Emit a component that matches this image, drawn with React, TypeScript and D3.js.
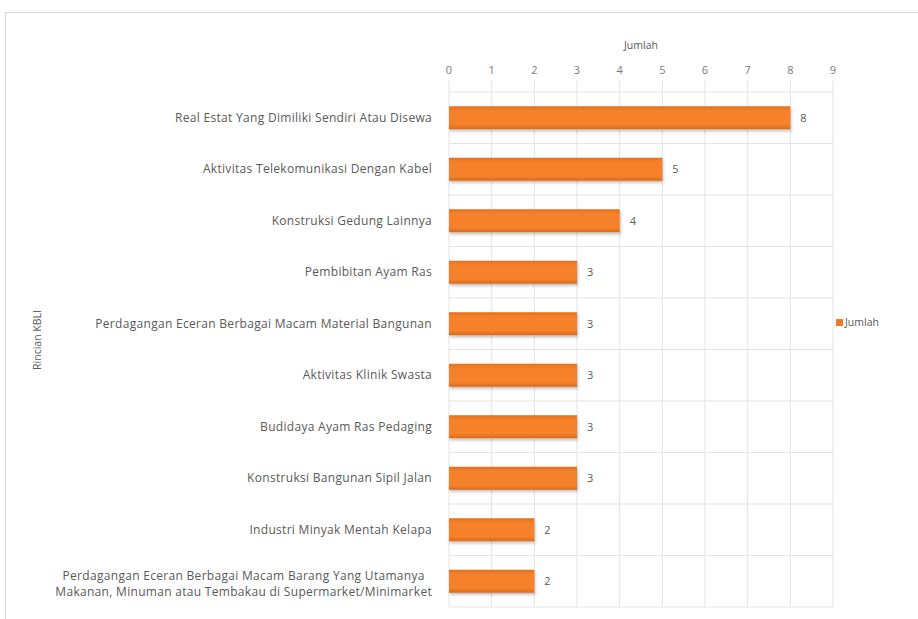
import React, { useEffect, useRef } from "react";
import * as d3 from "d3";

const categories = [
  "Real Estat Yang Dimiliki Sendiri Atau Disewa",
  "Aktivitas Telekomunikasi Dengan Kabel",
  "Konstruksi Gedung Lainnya",
  "Pembibitan Ayam Ras",
  "Perdagangan Eceran Berbagai Macam Material Bangunan",
  "Aktivitas Klinik Swasta",
  "Budidaya Ayam Ras Pedaging",
  "Konstruksi Bangunan Sipil Jalan",
  "Industri Minyak Mentah Kelapa",
  "Perdagangan Eceran Berbagai Macam Barang Yang Utamanya\nMakanan, Minuman atau Tembakau di Supermarket/Minimarket",
];
const jumlah = [8, 5, 4, 3, 3, 3, 3, 3, 2, 2];
const xTicks = [0, 1, 2, 3, 4, 5, 6, 7, 8, 9];

const W = 918;
const H = 619;
const FONT = "'Open Sans', sans-serif";
const TEXT = "#595959";
const GRID = "#e3e3e3";

const drawChart = (el: SVGSVGElement) => {
  const svg = d3.select(el);
  svg.selectAll("*").remove();

  const defs = svg.append("defs");
  const f = defs.append("filter").attr("id", "shadow").attr("x", "-5%").attr("y", "-30%").attr("width", "110%").attr("height", "170%");
  f.append("feDropShadow").attr("dx", 1).attr("dy", 2).attr("stdDeviation", 1.5).attr("flood-color", "#000").attr("flood-opacity", 0.25);

  const grad = defs.append("linearGradient").attr("id", "barGrad").attr("x1", 0).attr("y1", 0).attr("x2", 0).attr("y2", 1);
  grad.append("stop").attr("offset", "0%").attr("stop-color", "#e2701d");
  grad.append("stop").attr("offset", "20%").attr("stop-color", "#f5822b");
  grad.append("stop").attr("offset", "80%").attr("stop-color", "#f5822b");
  grad.append("stop").attr("offset", "100%").attr("stop-color", "#d9691a");

  // chart area border
  svg.append("rect").attr("x", 5.5).attr("y", 12.5).attr("width", W).attr("height", H)
    .attr("fill", "#fff").attr("stroke", "#d9d9d9");

  const x = d3.scaleLinear().domain([0, 9]).range([449, 833]);
  const y = d3.scaleBand().domain(categories).range([92, 607]);

  const g = svg.append("g");

  // vertical gridlines
  g.selectAll("line.vg").data(xTicks).enter().append("line")
    .attr("x1", (d) => x(d)).attr("x2", (d) => x(d))
    .attr("y1", 80).attr("y2", 607)
    .attr("stroke", GRID).attr("stroke-width", 1);

  // horizontal gridlines at category boundaries
  const bounds = categories.map((c) => y(c) as number).concat([y.range()[1]]);
  g.selectAll("line.hg").data(bounds).enter().append("line")
    .attr("x1", x(0)).attr("x2", x(9))
    .attr("y1", (d) => d).attr("y2", (d) => d)
    .attr("stroke", GRID).attr("stroke-width", 1);

  // top axis tick labels
  g.selectAll("text.tick").data(xTicks).enter().append("text")
    .attr("x", (d) => x(d)).attr("y", 74)
    .attr("text-anchor", "middle")
    .attr("font-family", FONT).attr("font-size", 11).attr("fill", "#7a7a7a")
    .text((d) => d);

  // axis titles
  svg.append("text").attr("x", (x(0) + x(9)) / 2).attr("y", 49)
    .attr("text-anchor", "middle")
    .attr("font-family", FONT).attr("font-size", 10.5).attr("fill", TEXT)
    .text("Jumlah");

  svg.append("text")
    .attr("transform", "translate(41,340) rotate(-90)")
    .attr("text-anchor", "middle")
    .attr("font-family", FONT).attr("font-size", 10.5).attr("fill", TEXT)
    .text("Rincian KBLI");

  const bh = 23;
  g.selectAll("rect.bar").data(jumlah).enter().append("rect")
    .attr("x", x(0))
    .attr("y", (d, i) => (y(categories[i]) as number) + y.bandwidth() / 2 - bh / 2)
    .attr("width", (d) => x(d) - x(0))
    .attr("height", bh)
    .attr("fill", "url(#barGrad)")
    .attr("filter", "url(#shadow)");

  g.selectAll("text.val").data(jumlah).enter().append("text")
    .attr("x", (d) => x(d) + 10)
    .attr("y", (d, i) => (y(categories[i]) as number) + y.bandwidth() / 2 + 4)
    .attr("font-family", FONT).attr("font-size", 11).attr("fill", TEXT)
    .text((d) => d);

  // category labels, block right-aligned, lines centred within it
  categories.forEach((c) => {
    const lines = c.split("\n");
    const cy = (y(c) as number) + y.bandwidth() / 2 + (lines.length > 1 ? 3 : 0);
    const t = g.append("text")
      .attr("text-anchor", "middle")
      .attr("font-family", FONT).attr("font-size", 12)
      .attr("letter-spacing", 0.3).attr("fill", TEXT);
    const spans = lines.map((ln, i) =>
      t.append("tspan")
        .attr("y", cy + 4 + (i - (lines.length - 1) / 2) * 16)
        .text(ln)
    );
    const maxW = d3.max(spans, (s) => (s.node() as SVGTSpanElement).getComputedTextLength()) || 0;
    spans.forEach((s) => s.attr("x", 432 - maxW / 2));
  });

  // legend
  svg.append("rect").attr("x", 836).attr("y", 319).attr("width", 7).attr("height", 7).attr("fill", "#ef7b2a");
  svg.append("text").attr("x", 845).attr("y", 326)
    .attr("font-family", FONT).attr("font-size", 10.5).attr("fill", TEXT)
    .text("Jumlah");
};

const App = () => {
  const ref = useRef<SVGSVGElement>(null);
  useEffect(() => {
    if (ref.current) drawChart(ref.current);
  }, []);
  return (
    <svg
      ref={ref}
      width={W}
      height={H}
      style={{ position: "absolute", left: 0, top: 0, background: "#fff" }}
    ></svg>
  );
};

export default App;
